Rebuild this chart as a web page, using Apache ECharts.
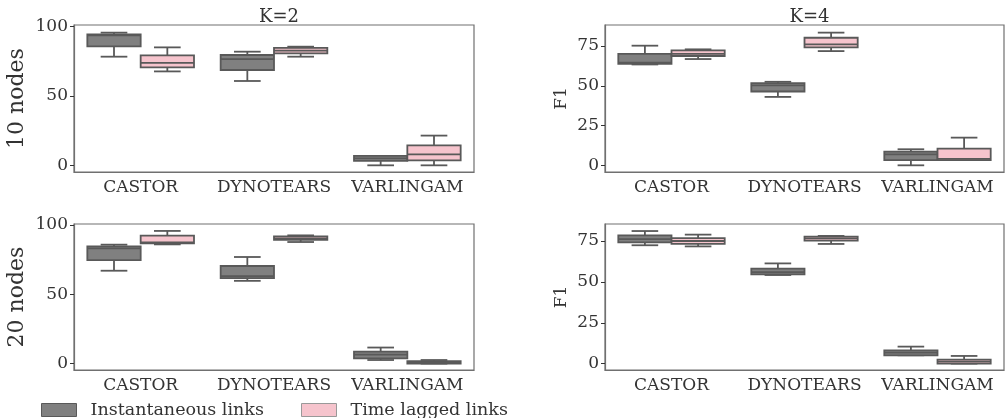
<!DOCTYPE html>
<html>
<head>
<meta charset="utf-8">
<script src="https://cdn.jsdelivr.net/npm/echarts@6/dist/echarts.min.js"></script>
<style>html,body{margin:0;padding:0;background:#fff}#c{width:1008px;height:418px}</style>
</head>
<body>
<div id="c"></div>
<script>
const categories = ['CASTOR', 'DYNOTEARS', 'VARLINGAM'];
const seriesNames = ['Instantaneous links', 'Time lagged links'];
const panelTitles = ['K=2', 'K=4'];
const rowLabels = ['10 nodes', '20 nodes'];
// [min, q1, median, q3, max] per category
const inst_10_k2 = [[78.2, 85.6, 93.5, 94.3, 95.5], [60.7, 68.6, 76.5, 79.4, 81.8], [0, 3.2, 5.0, 6.8, 6.8]];
const lag_10_k2  = [[67.6, 70.5, 73.7, 79.1, 84.9], [78.2, 80.6, 82.5, 84.5, 85.4], [0, 3.6, 7.9, 14.4, 21.4]];
const inst_10_k4 = [[63.4, 63.8, 64.5, 70.1, 75.2], [43.0, 46.4, 50.2, 51.7, 52.5], [0, 3.3, 6.9, 8.6, 10.1]];
const lag_10_k4  = [[66.8, 68.7, 70.1, 72.2, 72.9], [71.8, 74.1, 76.0, 80.2, 83.4], [3.3, 3.3, 4.0, 10.5, 17.4]];
const inst_20_k2 = [[67.0, 74.7, 83.1, 84.6, 85.8], [59.7, 61.7, 63.1, 70.4, 76.9], [2.6, 3.8, 6.5, 8.7, 11.6]];
const lag_20_k2  = [[86.0, 86.8, 87.5, 92.3, 95.7], [87.7, 89.2, 90.4, 91.8, 92.5], [0, 0, 0.7, 1.8, 2.6]];
const inst_20_k4 = [[72.4, 74.2, 76.2, 78.5, 81.1], [54.2, 54.6, 56.0, 58.1, 61.3], [5.1, 5.1, 6.7, 8.1, 10.4]];
const lag_20_k4  = [[71.7, 73.2, 75.0, 76.8, 78.9], [73.2, 75.2, 76.6, 77.7, 78.1], [0, 0, 1.2, 2.4, 4.7]];
const ticksK2 = [0, 50, 100];
const ticksK4 = [0, 25, 50, 75];

const FONT = 'DejaVu Serif';
const TXT = '#333333';
const EDGE = '#707070';
const LINE = '#595959';
const fills = ['#808080', '#f6c4cd'];

const panels = [
  {inst: inst_10_k2, lag: lag_10_k2, ticks: ticksK2, min: -4.8, max: 101, grid: {left: 74, top: 25, width: 400, height: 147}, title: panelTitles[0], yname: rowLabels[0], big: true},
  {inst: inst_10_k4, lag: lag_10_k4, ticks: ticksK4, min: -4.2, max: 88.2, grid: {left: 605, top: 25, width: 399, height: 147}, title: panelTitles[1], yname: 'F1', big: false},
  {inst: inst_20_k2, lag: lag_20_k2, ticks: ticksK2, min: -4.6, max: 100.7, grid: {left: 74, top: 224, width: 400, height: 146}, title: null, yname: rowLabels[1], big: true},
  {inst: inst_20_k4, lag: lag_20_k4, ticks: ticksK4, min: -3.9, max: 85.4, grid: {left: 605, top: 224, width: 399, height: 146}, title: null, yname: 'F1', big: false}
];

function makeRender(side, fill) {
  return function (params, api) {
    const cat = api.value(0);
    const band = api.size([1, 0])[0];
    const bw = band * 0.4;
    const cx = api.coord([cat, 0])[0] + side * bw / 2;
    const y = v => api.coord([cat, v])[1];
    const mn = y(api.value(1)), q1 = y(api.value(2)), md = y(api.value(3)), q3 = y(api.value(4)), mx = y(api.value(5));
    const ls = {stroke: LINE, lineWidth: 1.8};
    const cap = bw / 4;
    return {
      type: 'group',
      children: [
        {type: 'line', shape: {x1: cx, y1: q3, x2: cx, y2: mx}, style: ls},
        {type: 'line', shape: {x1: cx, y1: q1, x2: cx, y2: mn}, style: ls},
        {type: 'line', shape: {x1: cx - cap, y1: mx, x2: cx + cap, y2: mx}, style: ls},
        {type: 'line', shape: {x1: cx - cap, y1: mn, x2: cx + cap, y2: mn}, style: ls},
        {type: 'rect', shape: {x: cx - bw / 2, y: q3, width: bw, height: q1 - q3}, style: {fill: fill, stroke: LINE, lineWidth: 1.8}},
        {type: 'line', shape: {x1: cx - bw / 2, y1: md, x2: cx + bw / 2, y2: md}, style: ls}
      ]
    };
  };
}

const grid = [], xAxis = [], yAxis = [], series = [], title = [];
panels.forEach((p, i) => {
  grid.push(Object.assign({show: true, borderColor: EDGE, borderWidth: 1.2, containLabel: false}, p.grid));
  xAxis.push({
    type: 'category', gridIndex: i, data: categories, boundaryGap: true,
    axisLine: {onZero: false, lineStyle: {color: EDGE, width: 1.2}},
    axisTick: {alignWithLabel: true, length: 4, lineStyle: {color: TXT}},
    axisLabel: {interval: 0, hideOverlap: false, fontFamily: FONT, fontSize: 17, color: TXT, margin: 7},
    splitLine: {show: false}
  });
  yAxis.push({
    type: 'value', gridIndex: i, min: p.min, max: p.max,
    axisLine: {show: true, onZero: false, lineStyle: {color: EDGE, width: 1.2}},
    axisTick: {show: true, length: 4, lineStyle: {color: TXT}, customValues: p.ticks},
    axisLabel: {fontFamily: FONT, fontSize: 17, color: TXT, margin: 6, customValues: p.ticks},
    splitLine: {show: false},
    name: p.yname, nameLocation: 'middle', nameRotate: 90,
    nameGap: p.big ? 46 : 35,
    nameTextStyle: {fontFamily: FONT, fontSize: p.big ? 22 : 17, color: TXT}
  });
  const toData = arr => arr.map((v, k) => [k].concat(v));
  series.push({
    type: 'custom', name: seriesNames[0], xAxisIndex: i, yAxisIndex: i,
    renderItem: makeRender(-1, fills[0]), data: toData(p.inst),
    encode: {x: 0, y: [1, 2, 3, 4, 5]},
    itemStyle: {color: fills[0]}
  });
  series.push({
    type: 'custom', name: seriesNames[1], xAxisIndex: i, yAxisIndex: i,
    renderItem: makeRender(1, fills[1]), data: toData(p.lag),
    encode: {x: 0, y: [1, 2, 3, 4, 5]},
    itemStyle: {color: fills[1]}
  });
  if (p.title) {
    title.push({text: p.title, left: p.grid.left + p.grid.width / 2, top: 3, textAlign: 'center',
      textStyle: {fontFamily: FONT, fontSize: 18, fontWeight: 'normal', color: TXT}});
  }
});

const legendCommon = {
  top: 401, itemWidth: 35, itemHeight: 13, icon: 'rect', padding: 0,
  textStyle: {fontFamily: FONT, fontSize: 17.5, color: TXT, padding: [0, 0, 0, 9]}
};
const legend = [
  Object.assign({left: 41, data: [{name: seriesNames[0], itemStyle: {color: fills[0], borderColor: LINE, borderWidth: 1}}]}, legendCommon),
  Object.assign({left: 301, data: [{name: seriesNames[1], itemStyle: {color: fills[1], borderColor: '#999', borderWidth: 1}}]}, legendCommon)
];

const chart = echarts.init(document.getElementById('c'), null, {renderer: 'canvas'});
chart.setOption({animation: false, title, grid, xAxis, yAxis, series, legend});
</script>
</body>
</html>
